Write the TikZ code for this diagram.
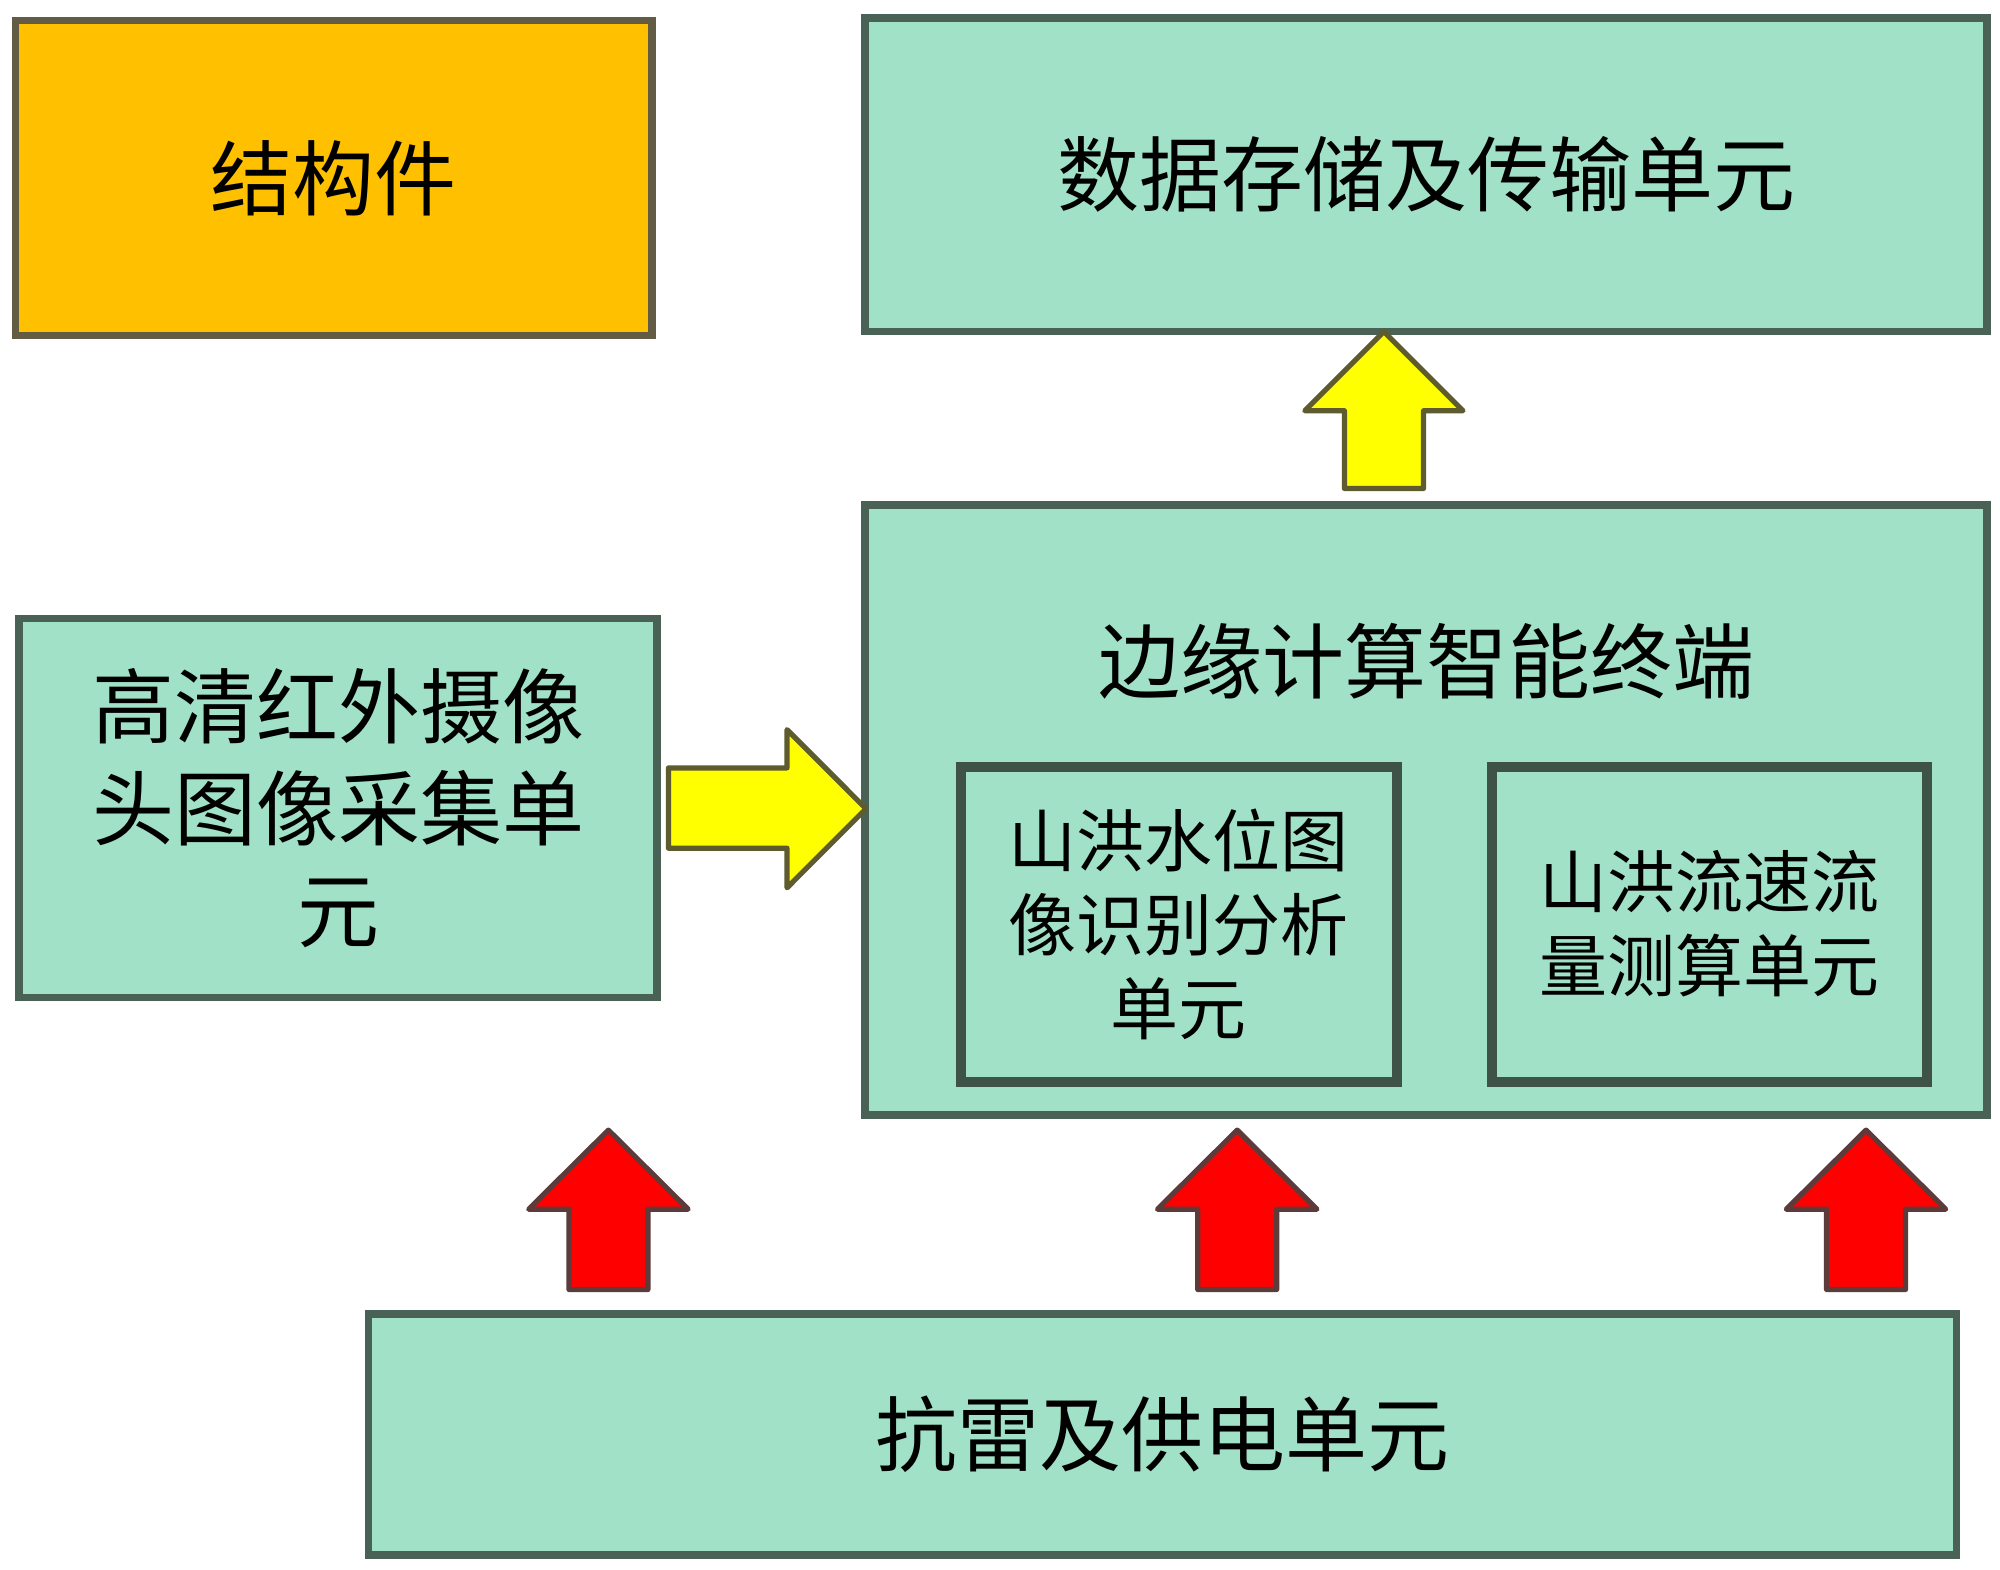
\documentclass[tikz,border=0pt]{standalone}
\usepackage{fontspec}
\newfontfamily\cjk{Noto Sans CJK SC}
\definecolor{mint}{HTML}{A0E1C7}
\definecolor{edge}{HTML}{4A6156}
\definecolor{inedge}{HTML}{3E5248}
\definecolor{amber}{HTML}{FFC000}
\definecolor{amberedge}{HTML}{625C44}
\definecolor{yel}{HTML}{FFFF00}
\definecolor{yeledge}{HTML}{5E5C2E}
\definecolor{redf}{HTML}{FF0000}
\definecolor{rededge}{HTML}{5E3B3B}
\begin{document}
\begin{tikzpicture}[x=0.5pt,y=-0.5pt,
  box/.style={draw=edge, fill=mint, line width=3.8pt, inner sep=0pt, align=center, font=\cjk\fontsize{41}{51}\selectfont},
  inbox/.style={draw=inedge, fill=mint, line width=5pt, inner sep=0pt, align=center, font=\cjk\fontsize{34}{42}\selectfont},
  yarrow/.style={draw=yeledge, fill=yel, line width=2.6pt, line join=round},
  rarrow/.style={draw=rededge, fill=redf, line width=2.6pt, line join=round}]
\useasboundingbox (0,0) rectangle (2000,1569);
\node[box, fill=amber, draw=amberedge, minimum width=318.25pt, minimum height=157.55pt] (jg) at (333.55,177.95) {结构件};
\node[box, minimum width=561.2pt, minimum height=156.85pt] (data) at (1426,174.75) {数据存储及传输单元};
\node[box, minimum width=561.2pt, minimum height=304.85pt] (edgeterm) at (1426,809.95) {};
\node[font=\cjk\fontsize{41}{51}\selectfont, inner sep=0pt] (title) at (1426,661) {边缘计算智能终端};
\node[inbox, minimum width=218.1pt, minimum height=157.5pt] (water) at (1178.6,924.1) {山洪水位图\\像识别分析\\单元};
\node[inbox, minimum width=217.5pt, minimum height=157.5pt] (flow) at (1709.8,924.1) {山洪流速流\\量测算单元};
\node[box, minimum width=318.9pt, minimum height=189.4pt] (cam) at (338,808) {高清红外摄像\\头图像采集单\\元};
\node[box, minimum width=794pt, minimum height=120.5pt] (power) at (1162.6,1434.3) {抗雷及供电单元};
% arrows
\draw[yarrow] (1344.4,488.5) -- (1344.4,410.7) -- (1304.8,410.7) -- (1383.9,331.6) -- (1463,410.7) -- (1423.5,410.7) -- (1423.5,488.5) -- cycle;
\draw[yarrow] (668.4,767.9) -- (787,767.9) -- (787,729.6) -- (866,808.7) -- (787,887.8) -- (787,848.2) -- (668.4,848.2) -- cycle;
\foreach \cx in {608.4,1237.2,1866}{
  \draw[rarrow] ({\cx-39.5},1289.5) -- ({\cx-39.5},1209.2) -- ({\cx-79.7},1209.2) -- (\cx,1130.1) -- ({\cx+79.7},1209.2) -- ({\cx+39.5},1209.2) -- ({\cx+39.5},1289.5) -- cycle;
}
\end{tikzpicture}
\end{document}
